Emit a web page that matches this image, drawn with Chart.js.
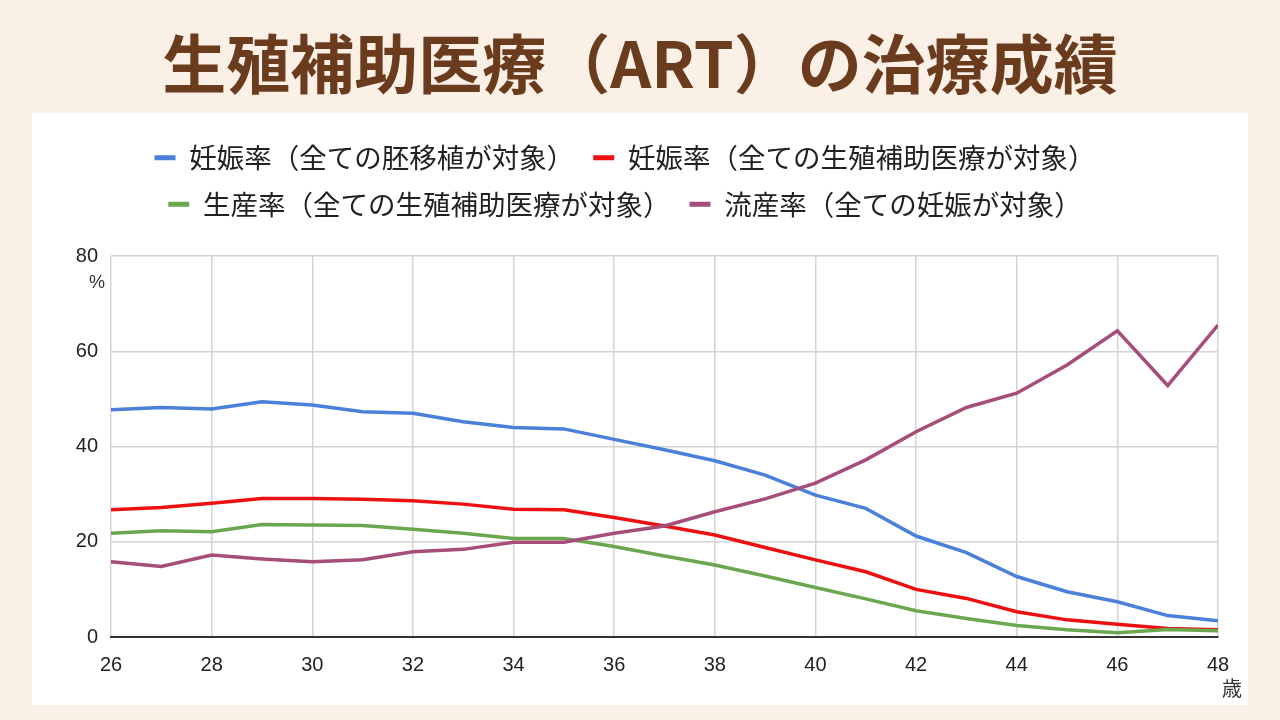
<!DOCTYPE html>
<html lang="ja">
<head>
<meta charset="utf-8">
<script src="https://cdn.jsdelivr.net/npm/chart.js@4"></script>
<style>
	html, body { margin: 0; padding: 0; }
	body {
		width: 1280px;
		height: 720px;
		background: #fbf0e6;
		position: relative;
		overflow: hidden;
		font-family: "Noto Sans CJK JP", sans-serif;
	}
	h1 {
		position: absolute;
		left: 0;
		top: 28px;
		width: 1280px;
		margin: 0;
		text-align: center;
		font-size: 64px;
		line-height: 64px;
		font-weight: 700;
		color: #6b3b1e;
	}
	.panel {
		position: absolute;
		left: 32px;
		top: 113px;
		width: 1216px;
		height: 592px;
		background: #fff;
	}
</style>
</head>
<body>
<h1>生殖補助医療（ART）の治療成績</h1>
<div class="panel"><canvas id="art-chart"></canvas></div>
<script>
// ages (x axis) and the four series
const ages = [26, 27, 28, 29, 30, 31, 32, 33, 34, 35, 36, 37, 38, 39, 40, 41, 42, 43, 44, 45, 46, 47, 48];

const seriesNames = [
	"妊娠率（全ての胚移植が対象）",
	"妊娠率（全ての生殖補助医療が対象）",
	"生産率（全ての生殖補助医療が対象）",
	"流産率（全ての妊娠が対象）",
];

const pregnancyPerTransfer = [47.7, 48.2, 47.9, 49.4, 48.7, 47.3, 47.0, 45.2, 44.0, 43.7, 41.5, 39.3, 37.0, 34.0, 29.8, 27.0, 21.2, 17.7, 12.7, 9.5, 7.4, 4.5, 3.4];
const pregnancyPerCycle = [26.7, 27.2, 28.1, 29.1, 29.1, 28.9, 28.6, 27.9, 26.8, 26.7, 25.1, 23.3, 21.4, 18.8, 16.2, 13.7, 10.0, 8.1, 5.3, 3.6, 2.7, 1.8, 1.5];
const liveBirthPerCycle = [21.8, 22.3, 22.1, 23.6, 23.5, 23.4, 22.6, 21.8, 20.7, 20.7, 19.0, 17.0, 15.1, 12.8, 10.4, 8.0, 5.5, 3.9, 2.4, 1.5, 0.9, 1.6, 1.3];
const miscarriagePerPregnancy = [15.8, 14.8, 17.2, 16.4, 15.8, 16.2, 17.9, 18.4, 19.9, 19.9, 21.8, 23.3, 26.3, 29.0, 32.3, 37.2, 43.1, 48.2, 51.2, 57.1, 64.3, 52.8, 65.5];

const yTicks = [0, 20, 40, 60, 80];
const xTicks = [26, 28, 30, 32, 34, 36, 38, 40, 42, 44, 46, 48];

const colors = ["#4a80d9", "#ee1010", "#6aa84f", "#a64d79"];

function toPoints(values) {
	return values.map((v, i) => ({ x: ages[i], y: v }));
}

const allSeries = [pregnancyPerTransfer, pregnancyPerCycle, liveBirthPerCycle, miscarriagePerPregnancy];

const datasets = allSeries.map((values, i) => ({
	label: seriesNames[i],
	data: toPoints(values),
	borderColor: colors[i],
	backgroundColor: colors[i],
	borderWidth: 3.5,
	pointRadius: 0,
	tension: 0,
	order: allSeries.length - i,
}));

// extra room under the legend
const legendGap = {
	id: "legendGap",
	beforeInit(chart) {
		const fit = chart.legend.fit;
		chart.legend.fit = function () {
			fit.bind(chart.legend)();
			this.height += 28;
		};
	},
};

// unit labels: % under the top y tick, 歳 under the last x tick
const unitLabels = {
	id: "unitLabels",
	afterDraw(chart) {
		const { ctx, chartArea, scales } = chart;
		ctx.save();
		ctx.fillStyle = "#333";
		ctx.textAlign = "center";
		ctx.textBaseline = "middle";
		ctx.font = '18px "Liberation Sans", Arial, sans-serif';
		ctx.fillText("%", chartArea.left - 14, scales.y.getPixelForValue(80) + 27);
		ctx.font = '20px "Noto Sans CJK JP", sans-serif';
		ctx.fillText("歳", scales.x.getPixelForValue(48) + 14, chartArea.bottom + 51);
		ctx.restore();
	},
};

new Chart(document.getElementById("art-chart"), {
	type: "line",
	data: { datasets },
	options: {
		responsive: true,
		maintainAspectRatio: false,
		animation: false,
		layout: { padding: { top: 12, right: 30, bottom: 12, left: 0 } },
		plugins: {
			tooltip: { enabled: false },
			legend: {
				position: "top",
				labels: {
					boxWidth: 21,
					boxHeight: 5,
					padding: 19,
					color: "#222",
					font: { family: '"Noto Sans CJK JP", sans-serif', size: 27.5 },
					sort: (a, b) => a.datasetIndex - b.datasetIndex,
					generateLabels(chart) {
						const items = Chart.defaults.plugins.legend.labels.generateLabels(chart);
						return items.map((it) => ({ ...it, lineWidth: 0 }));
					},
				},
			},
		},
		scales: {
			x: {
				type: "linear",
				min: 26,
				max: 48,
				afterBuildTicks: (s) => { s.ticks = xTicks.map((v) => ({ value: v })); },
				grid: { color: "#d4d4d4", lineWidth: 1.5, drawTicks: false },
				border: { color: "#333", width: 2 },
				ticks: {
					padding: 16,
					color: "#222",
					font: { family: '"Liberation Sans", Arial, sans-serif', size: 20 },
				},
			},
			y: {
				min: 0,
				max: 80,
				afterBuildTicks: (s) => { s.ticks = yTicks.map((v) => ({ value: v })); },
				afterFit: (s) => { s.width = 79; },
				grid: { color: "#d4d4d4", lineWidth: 1.5, drawTicks: false },
				border: { display: false },
				ticks: {
					padding: 13,
					color: "#222",
					font: { family: '"Liberation Sans", Arial, sans-serif', size: 20 },
				},
			},
		},
	},
	plugins: [legendGap, unitLabels],
});
</script>
</body>
</html>
